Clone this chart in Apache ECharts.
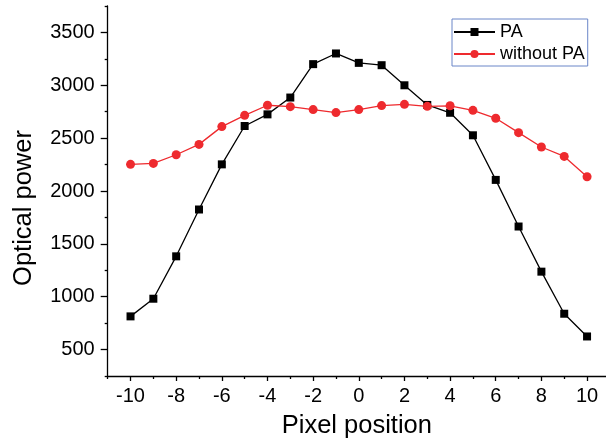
<!DOCTYPE html>
<html>
<head>
<meta charset="utf-8">
<script src="https://cdn.jsdelivr.net/npm/echarts@6/dist/echarts.min.js"></script>
<style>
  html, body { margin: 0; padding: 0; background: #fff; }
  #main { width: 606px; height: 444px; }
</style>
</head>
<body>
<div id="main"></div>
<script>
  // pixel positions along the x axis
  const xValues = [-10, -9, -8, -7, -6, -5, -4, -3, -2, -1, 0, 1, 2, 3, 4, 5, 6, 7, 8, 9, 10];
  const paValues = [814, 981, 1382, 1825, 2252, 2615, 2725, 2884, 3200, 3301, 3212, 3190, 3000, 2814, 2740, 2527, 2105, 1664, 1237, 839, 624];
  const noPaValues = [2252, 2261, 2343, 2441, 2609, 2716, 2811, 2798, 2770, 2742, 2770, 2808, 2820, 2801, 2806, 2763, 2688, 2552, 2416, 2327, 2135];
  const seriesNames = ['PA', 'without PA'];

  const xLabelTicks = [-10, -8, -6, -4, -2, 0, 2, 4, 6, 8, 10];
  const xMinorTicks = [-11, -9, -7, -5, -3, -1, 1, 3, 5, 7, 9];
  const yLabelTicks = [500, 1000, 1500, 2000, 2500, 3000, 3500];
  const yMinorTicks = [250, 750, 1250, 1750, 2250, 2750, 3250, 3750];

  const font = 'Liberation Sans, Arial, sans-serif';
  const chart = echarts.init(document.getElementById('main'));

  const axisLine = { show: true, onZero: false, lineStyle: { color: '#000', width: 1.3 } };
  const plain = v => String(v);

  const option = {
    animation: false,
    backgroundColor: '#fff',
    textStyle: { fontFamily: font },
    grid: { left: 107.7, right: 0, top: 6, bottom: 67.3 },
    legend: {
      orient: 'vertical',
      left: 452,
      top: 19,
      padding: [4, 3, 3, 1],
      itemGap: 4,
      itemWidth: 41,
      itemHeight: 10,
      borderColor: '#6a86c8',
      borderWidth: 1,
      textStyle: { fontSize: 18, color: '#000', fontFamily: font },
      data: seriesNames
    },
    xAxis: [
      {
        type: 'value', min: -11, max: 10.83,
        axisLine: axisLine,
        splitLine: { show: false },
        axisTick: { show: true, customValues: xLabelTicks, length: 5, lineStyle: { color: '#000', width: 1.3 } },
        axisLabel: { customValues: xLabelTicks, formatter: plain, fontSize: 20, color: '#000', margin: 10, fontFamily: font },
        name: 'Pixel position',
        nameLocation: 'middle',
        nameGap: 37,
        nameTextStyle: { fontSize: 25.5, color: '#000', fontFamily: font }
      },
      {
        type: 'value', min: -11, max: 10.83, position: 'bottom',
        axisLine: { show: false, onZero: false },
        splitLine: { show: false },
        axisTick: { show: true, customValues: xMinorTicks, length: 3, lineStyle: { color: '#000', width: 1.3 } },
        axisLabel: { show: false }
      }
    ],
    yAxis: [
      {
        type: 'value', min: 250, max: 3750,
        axisLine: axisLine,
        splitLine: { show: false },
        axisTick: { show: true, customValues: yLabelTicks, length: 7, lineStyle: { color: '#000', width: 1.3 } },
        axisLabel: { customValues: yLabelTicks, formatter: plain, fontSize: 20, color: '#000', margin: 13, fontFamily: font },
        name: 'Optical power',
        nameLocation: 'middle',
        nameGap: 71,
        nameTextStyle: { fontSize: 25.5, color: '#000', fontFamily: font, padding: [0, 34, 0, 0] }
      },
      {
        type: 'value', min: 250, max: 3750, position: 'left',
        axisLine: { show: false, onZero: false },
        splitLine: { show: false },
        axisTick: { show: true, customValues: yMinorTicks, length: 3, lineStyle: { color: '#000', width: 1.3 } },
        axisLabel: { show: false }
      }
    ],
    series: [
      {
        name: seriesNames[0],
        type: 'line',
        xAxisIndex: 0, yAxisIndex: 0,
        symbol: 'rect', symbolSize: 8,
        itemStyle: { color: '#000' },
        lineStyle: { color: '#000', width: 1.3 },
        data: xValues.map((x, i) => [x, paValues[i]])
      },
      {
        name: seriesNames[1],
        type: 'line',
        xAxisIndex: 0, yAxisIndex: 0,
        symbol: 'circle', symbolSize: 9,
        itemStyle: { color: '#ee2a2e' },
        lineStyle: { color: '#ee2a2e', width: 1.3 },
        data: xValues.map((x, i) => [x, noPaValues[i]])
      }
    ]
  };

  chart.setOption(option);
  window.addEventListener('resize', () => { chart.resize(); });
</script>
</body>
</html>
